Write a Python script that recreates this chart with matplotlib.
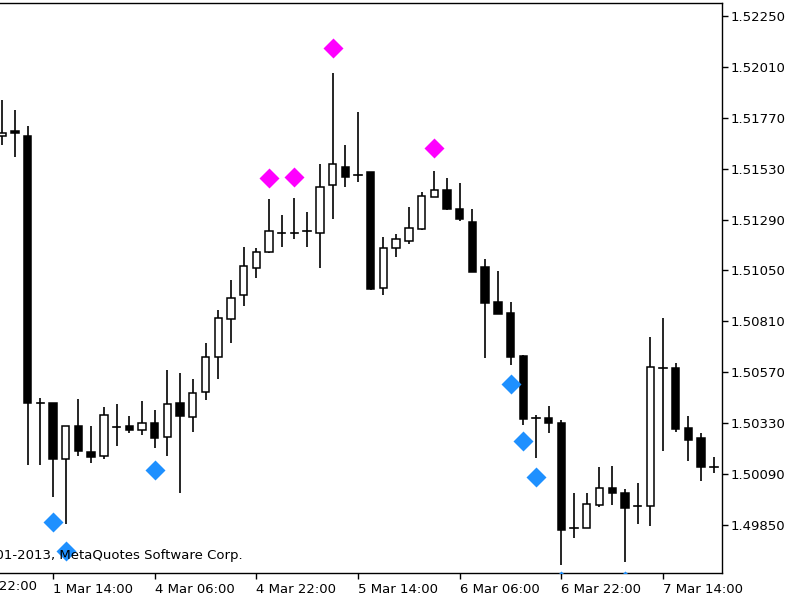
import matplotlib
matplotlib.use('Agg')
import matplotlib.pyplot as plt
from matplotlib.patches import Rectangle

# H2 bars, EURUSD-like
opens = [1.51684, 1.51708, 1.51684, 1.50425, 1.50425, 1.50161, 1.50317, 1.50194, 1.50175, 1.50312,
         1.50317, 1.50298, 1.50331, 1.50265, 1.50425, 1.50359, 1.50477, 1.50642, 1.50821, 1.50935,
         1.51062, 1.51137, 1.51227, 1.51227, 1.51236, 1.51227, 1.51453, 1.51538, 1.51500, 1.51514,
         1.50968, 1.51156, 1.51189, 1.51246, 1.51397, 1.51430, 1.51340, 1.51279, 1.51067, 1.50902,
         1.50850, 1.50647, 1.50355, 1.50355, 1.50331, 1.49836, 1.49836, 1.49944, 1.50025, 1.50001,
         1.49940, 1.49940, 1.50590, 1.50590, 1.50307, 1.50260, 1.50124]
highs = [1.51854, 1.51807, 1.51731, 1.50449, 1.50425, 1.50317, 1.50444, 1.50317, 1.50406, 1.50421,
         1.50364, 1.50435, 1.50392, 1.50581, 1.50567, 1.50538, 1.50708, 1.50864, 1.51005, 1.51161,
         1.51156, 1.51387, 1.51312, 1.51392, 1.51326, 1.51552, 1.51981, 1.51642, 1.51797, 1.51514,
         1.51208, 1.51222, 1.51349, 1.51420, 1.51519, 1.51486, 1.51463, 1.51340, 1.51104, 1.51048,
         1.50902, 1.50652, 1.50369, 1.50411, 1.50345, 1.50001, 1.50001, 1.50124, 1.50128, 1.50020,
         1.50048, 1.50737, 1.50826, 1.50614, 1.50364, 1.50284, 1.50171]
lows = [1.51642, 1.51585, 1.50133, 1.50133, 1.49982, 1.49855, 1.50175, 1.50142, 1.50161, 1.50223,
        1.50284, 1.50274, 1.50213, 1.50175, 1.50001, 1.50289, 1.50439, 1.50538, 1.50708, 1.50883,
        1.51015, 1.51133, 1.51161, 1.51199, 1.51161, 1.51062, 1.51293, 1.51444, 1.51467, 1.50958,
        1.50935, 1.51114, 1.51175, 1.51241, 1.51397, 1.51335, 1.51283, 1.51043, 1.50637, 1.50845,
        1.50604, 1.50322, 1.50166, 1.50284, 1.49661, 1.49789, 1.49836, 1.49935, 1.49944, 1.49676,
        1.49855, 1.49845, 1.50199, 1.50289, 1.50152, 1.50058, 1.50095]
closes = [1.51698, 1.51698, 1.50425, 1.50425, 1.50161, 1.50317, 1.50199, 1.50171, 1.50369, 1.50312,
          1.50298, 1.50331, 1.50260, 1.50421, 1.50364, 1.50472, 1.50642, 1.50826, 1.50920, 1.51071,
          1.51137, 1.51236, 1.51227, 1.51227, 1.51236, 1.51444, 1.51552, 1.51491, 1.51500, 1.50963,
          1.51156, 1.51199, 1.51250, 1.51401, 1.51430, 1.51340, 1.51293, 1.51043, 1.50897, 1.50845,
          1.50642, 1.50350, 1.50355, 1.50331, 1.49826, 1.49836, 1.49949, 1.50025, 1.50001, 1.49930,
          1.49940, 1.50595, 1.50590, 1.50303, 1.50251, 1.50124, 1.50124]

# fractals
up_idx = [21, 23, 26, 34]
up_val = [1.51486, 1.51491, 1.52099, 1.51628]
dn_idx = [4, 5, 12, 40, 41, 42, 44, 49]
dn_val = [1.49864, 1.49727, 1.50109, 1.50515, 1.50246, 1.50076, 1.49586, 1.49586]

tick_idx = [4, 12, 20, 28, 36, 44, 52]
tick_lab = ['1 Mar 14:00', '4 Mar 06:00', '4 Mar 22:00', '5 Mar 14:00',
            '6 Mar 06:00', '6 Mar 22:00', '7 Mar 14:00']
first_lab = '28 Feb 22:00'
price_ticks = [1.49850, 1.50090, 1.50330, 1.50570, 1.50810, 1.51050,
               1.51290, 1.51530, 1.51770, 1.52010, 1.52250]

fig = plt.figure(figsize=(8, 6), dpi=100)
ax = fig.add_axes([0, 27 / 600, 722 / 800, 570 / 600])

w = 0.58
for i in range(len(opens)):
    o, h, l, c = opens[i], highs[i], lows[i], closes[i]
    ax.plot([i, i], [l, h], color='black', lw=1.2, zorder=2, solid_capstyle='butt')
    if abs(c - o) < 1e-5:
        ax.plot([i - w / 2, i + w / 2], [o, o], color='black', lw=1.2, zorder=3)
    else:
        fc = 'white' if c > o else 'black'
        ax.add_patch(Rectangle((i - w / 2, min(o, c)), w, abs(c - o),
                               facecolor=fc, edgecolor='black', lw=1.1, zorder=3))

ax.plot(up_idx, up_val, 'D', color='#ff00ff', ms=10, mec='none', zorder=4)
ax.plot(dn_idx, dn_val, 'D', color='#1e90ff', ms=10, mec='none', zorder=4)

ax.set_xlim(-0.171, 56.64)
ax.set_ylim(1.496236, 1.523113)

fs = 9.5
ax.yaxis.tick_right()
ax.set_yticks(price_ticks)
ax.set_yticklabels(['%.5f' % p for p in price_ticks], fontsize=fs)
ax.set_xticks(tick_idx)
ax.set_xticklabels(tick_lab, fontsize=fs, ha='left')
ax.tick_params(axis='both', direction='out', length=4, width=1, pad=2, colors='black')
ax.tick_params(axis='x', pad=3)
ax.spines['left'].set_visible(False)
for s in ['top', 'right', 'bottom']:
    ax.spines[s].set_linewidth(1)

ax.text(-4 - 0.1, -0.012, first_lab, transform=ax.get_xaxis_transform(),
        fontsize=fs, ha='left', va='top', clip_on=False)
fig.text(243 / 800, 1 - 555 / 600, '\u00a9 2001-2013, MetaQuotes Software Corp.',
         fontsize=fs, ha='right', va='center')

fig.savefig('out.png', dpi=100)
